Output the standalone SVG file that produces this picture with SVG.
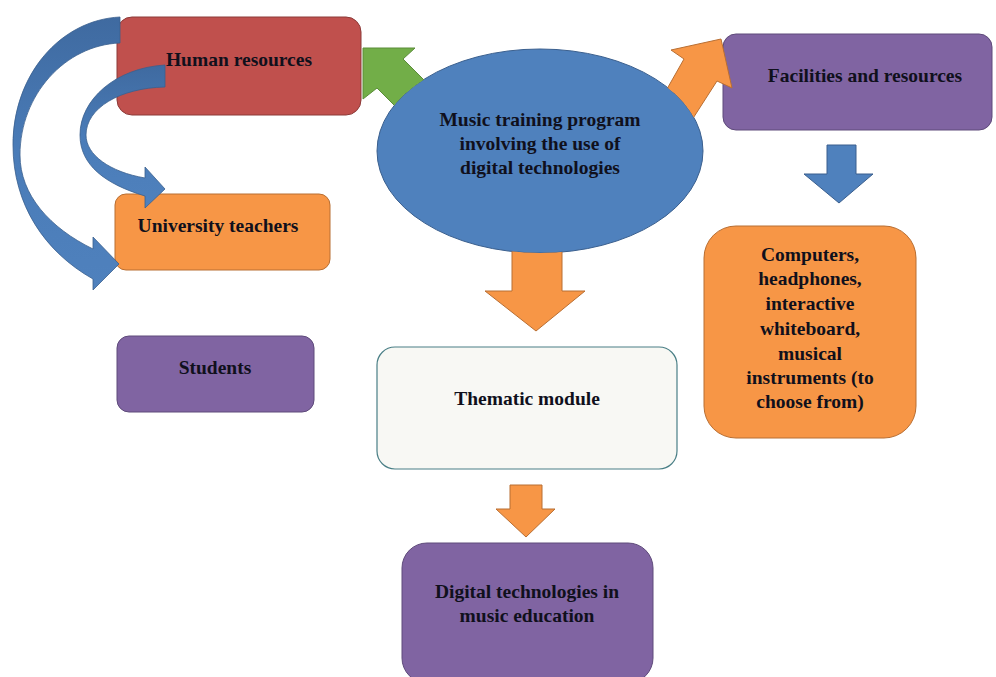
<svg xmlns="http://www.w3.org/2000/svg" width="996" height="677" viewBox="0 0 996 677">
<style>
  .t { font-family: "Liberation Serif", "Times New Roman", serif; font-weight: bold; font-size: 19.5px; fill: #10101c; text-anchor: middle; }
  .red { fill: #c0504d; stroke: #8c3a38; stroke-width: 1; }
  .org { fill: #f79646; stroke: #b86e32; stroke-width: 1; }
  .pur { fill: #8064a2; stroke: #5e4a7a; stroke-width: 1; }
  .blu { fill: #4f81bd; stroke: #3a5f8e; stroke-width: 1; }
  .grn { fill: #72ae48; stroke: #5a8c38; stroke-width: 1; }
  .wht { fill: #f8f8f4; stroke: #4a7f86; stroke-width: 1.2; }
  .curv { fill: url(#cg); stroke: #3a5f8e; stroke-width: 0.8; }
</style>
<defs>
  <linearGradient id="cg" x1="0" y1="0" x2="0" y2="1">
    <stop offset="0" stop-color="#3f6aa0"/>
    <stop offset="0.5" stop-color="#4a7cb8"/>
    <stop offset="1" stop-color="#4f81bd"/>
  </linearGradient>
  <mask id="noEllipse" maskUnits="userSpaceOnUse" x="0" y="0" width="996" height="677">
    <rect x="0" y="0" width="996" height="677" fill="#fff"/>
    <ellipse cx="540" cy="151" rx="163" ry="102" fill="#000"/>
  </mask>
</defs>
<rect x="0" y="0" width="996" height="677" fill="#ffffff"/>

<g id="nodes">
  <g id="human-resources">
    <rect class="red" x="117" y="17" width="244" height="98" rx="15"/>
    <text class="t" x="239" y="66">Human resources</text>
  </g>
  <g id="university-teachers">
    <rect class="org" x="115" y="194" width="215" height="76" rx="11"/>
    <text class="t" x="218" y="232">University teachers</text>
  </g>
  <g id="students">
    <rect class="pur" x="117" y="336" width="197" height="76" rx="12"/>
    <text class="t" x="215" y="374">Students</text>
  </g>
  <g id="music-program">
    <ellipse class="blu" cx="540" cy="151" rx="163" ry="102"/>
    <text class="t" x="540" y="126">Music training program</text>
    <text class="t" x="540" y="150">involving the use of</text>
    <text class="t" x="540" y="174">digital technologies</text>
  </g>
  <g id="facilities">
    <rect class="pur" x="723" y="34" width="269" height="96" rx="13"/>
    <text class="t" x="865" y="82">Facilities and resources</text>
  </g>
  <g id="computers">
    <rect class="org" x="704" y="226" width="212" height="212" rx="32"/>
    <text class="t" x="810" y="261">Computers,</text>
    <text class="t" x="810" y="285">headphones,</text>
    <text class="t" x="810" y="310">interactive</text>
    <text class="t" x="810" y="335">whiteboard,</text>
    <text class="t" x="810" y="360">musical</text>
    <text class="t" x="810" y="384">instruments (to</text>
    <text class="t" x="810" y="408">choose from)</text>
  </g>
  <g id="thematic-module">
    <rect class="wht" x="377" y="347" width="300" height="122" rx="18"/>
    <text class="t" x="527" y="405">Thematic module</text>
  </g>
  <g id="digital-tech">
    <rect class="pur" x="402" y="543" width="251" height="140" rx="25"/>
    <text class="t" x="527" y="598">Digital technologies in</text>
    <text class="t" x="527" y="622">music education</text>
  </g>
</g>

<g id="connectors">
  <g mask="url(#noEllipse)">
    <polygon class="grn" points="363,48 415,48 403,59 453,109 427,138 377,88 363,99"/>
    <polygon class="org" points="721,39 732,88 717,81 690,123 659,103 684,59 671,50"/>
    <polygon class="org" points="512,240 562,240 562,291 585,291 536,331 485,291 512,291"/>
  </g>
  <polygon class="blu" points="827,145 856,145 856,174 873,174 839,203 804,174 827,174"/>
  <polygon class="org" points="510,485 542,485 542,509 555,509 526,537 496,509 510,509"/>
  <path class="curv" d="M120,17 C60,20 13,75 13,145 C13,205 45,252 93,279 L93,290 L119,264 L93,237 L93,249 C50,228 20,195 20,155 C20,95 65,45 120,43 Z"/>
  <path class="curv" d="M165,65 C115,68 80,100 80,135 C80,165 105,184 145,196 L145,208 L165,189 L145,167 L145,178 C110,172 86,155 86,135 C86,108 120,88 165,87 Z"/>
</g>
</svg>
